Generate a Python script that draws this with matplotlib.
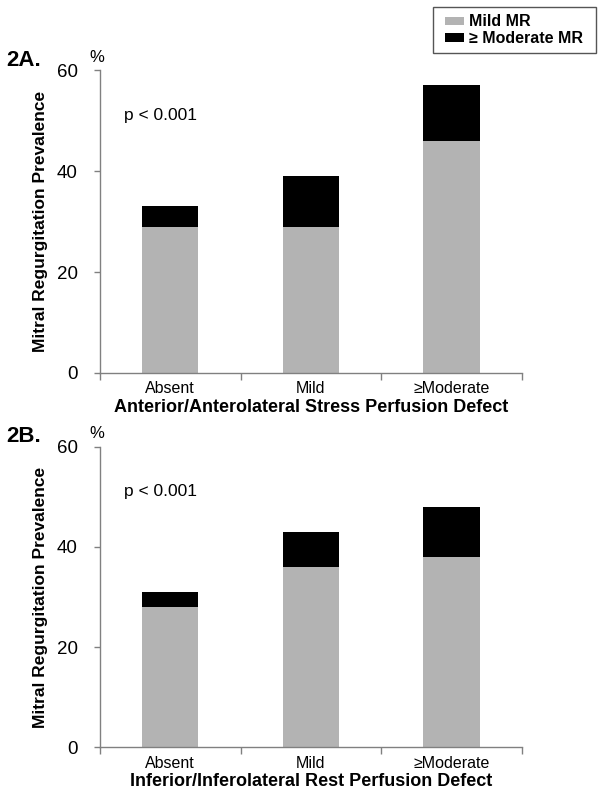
import matplotlib
matplotlib.use("Agg")
import matplotlib.pyplot as plt
from matplotlib.patches import Patch, Rectangle

plt.rcParams["font.family"] = ["Liberation Sans", "DejaVu Sans"]

categories = ["Absent", "Mild", "\u2265Moderate"]

# panel A: anterior/anterolateral stress perfusion defect
mild_a = [29, 29, 46]
total_a = [33, 39, 57]
# panel B: inferior/inferolateral rest perfusion defect
mild_b = [28, 36, 38]
total_b = [31, 43, 48]

panels = [
    ("2A.", "Anterior/Anterolateral Stress Perfusion Defect", mild_a, total_a),
    ("2B.", "Inferior/Inferolateral Rest Perfusion Defect", mild_b, total_b),
]

GRAY = "#b3b3b3"
SPINE = "#808080"

fig = plt.figure(figsize=(6.02, 7.97), dpi=100)
axes = [fig.add_axes([0.166, 0.532, 0.701, 0.380]),
        fig.add_axes([0.166, 0.0624, 0.701, 0.377])]

for ax, (tag, xlabel, mild, total) in zip(axes, panels):
    x = list(range(len(categories)))
    moderate = [t - m for t, m in zip(total, mild)]
    ax.bar(x, mild, width=0.4, color=GRAY, edgecolor="none")
    ax.bar(x, moderate, bottom=mild, width=0.4, color="black", edgecolor="none")

    ax.set_xlim(-0.5, 2.5)
    ax.set_ylim(0, 60)
    ax.set_yticks([0, 20, 40, 60])
    ax.tick_params(axis="y", direction="out", length=4, width=1, color=SPINE,
                   labelsize=13.5, pad=12)

    # boundary ticks below the axis, labels centred on the bars
    ax.set_xticks([-0.5, 0.5, 1.5, 2.5])
    ax.set_xticklabels([])
    ax.set_xticks(x, minor=True)
    ax.set_xticklabels(categories, minor=True)
    ax.tick_params(axis="x", which="major", direction="out", length=5, width=1, color=SPINE)
    ax.tick_params(axis="x", which="minor", length=0, labelsize=11.5, pad=6)

    for side in ["top", "right"]:
        ax.spines[side].set_visible(False)
    for side in ["left", "bottom"]:
        ax.spines[side].set_color(SPINE)
        ax.spines[side].set_linewidth(1)

    ax.set_ylabel("Mitral Regurgitation Prevalence", fontsize=12.5, fontweight="bold")
    ax.yaxis.set_label_coords(-0.123, 0.5)
    ax.set_xlabel(xlabel, fontsize=13, fontweight="bold", labelpad=2)

    ax.text(0.057, 0.85, "p < 0.001", transform=ax.transAxes, fontsize=12.5,
            ha="left", va="center")
    ax.text(-0.007, 1.043, "%", transform=ax.transAxes, fontsize=12,
            ha="center", va="center")
    ax.text(-0.18, 1.033, tag, transform=ax.transAxes, fontsize=16,
            fontweight="bold", ha="center", va="center")

# legend box drawn separately so its padding can match the original
fig.patches.append(Rectangle((0.719, 0.933), 0.271, 0.058, transform=fig.transFigure,
                             facecolor="white", edgecolor="#555555", linewidth=1))
handles = [Patch(facecolor=GRAY, edgecolor="none", label="Mild MR"),
           Patch(facecolor="black", edgecolor="none", label="\u2265 Moderate MR")]
fig.legend(handles=handles, loc="center", bbox_to_anchor=(0.8545, 0.962),
           frameon=False, prop={"weight": "bold", "size": 11.5}, handlelength=1.15,
           handleheight=0.45, handletextpad=0.35, labelspacing=0.1,
           borderpad=0, borderaxespad=0)

fig.savefig("out.png", dpi=100)
